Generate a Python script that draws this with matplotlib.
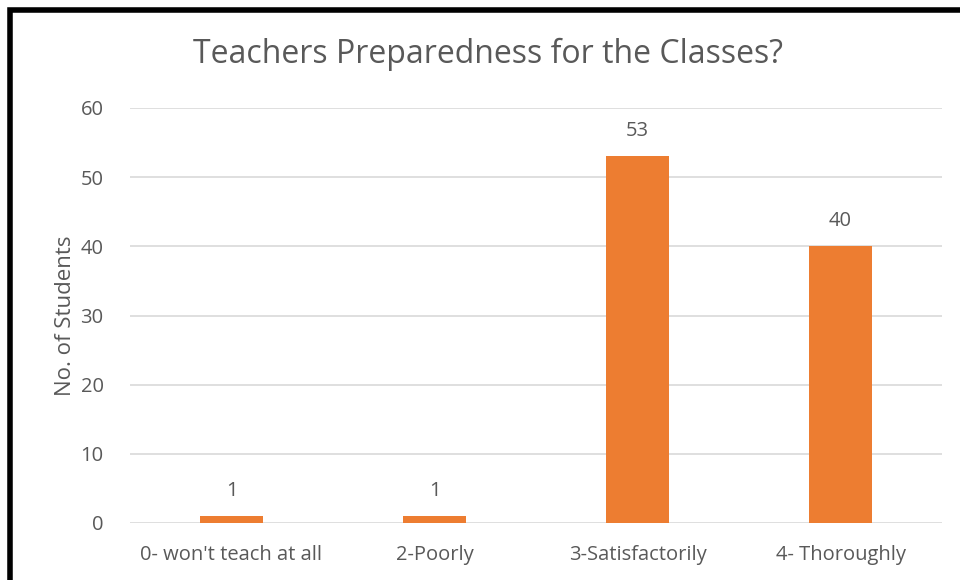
import matplotlib.pyplot as plt
from matplotlib.patches import Rectangle

# Data
categories = ["0- won't teach at all", "2-Poorly", "3-Satisfactorily", "4- Thoroughly"]
students = [1, 1, 53, 40]
y_ticks = [0, 10, 20, 30, 40, 50, 60]

plt.rcParams['font.family'] = ['Open Sans', 'DejaVu Sans']
text_color = '#595959'

fig = plt.figure(figsize=(9.6, 5.8), dpi=100)
ax = fig.add_axes([130 / 960, 57 / 580, 812 / 960, 415 / 580])

x = range(len(categories))
bars = ax.bar(x, students, width=0.31, color='#ED7D31', zorder=3)
for b, v in zip(bars, students):
    ax.annotate(str(v), (b.get_x() + b.get_width() / 2, v), xytext=(0, 11),
                textcoords='offset points', ha='center', va='bottom',
                fontsize=14.5, color=text_color)

ax.set_xlim(-0.5, len(categories) - 0.5)
ax.set_ylim(0, 60)
ax.set_yticks(y_ticks)
ax.set_xticks(list(x))
ax.set_xticklabels(categories)
ax.tick_params(axis='both', length=0, labelsize=14.5, labelcolor=text_color)
ax.tick_params(axis='y', pad=19)
ax.tick_params(axis='x', pad=16)
ax.grid(axis='y', color='#D9D9D9', linewidth=1.2, zorder=0)
for s in ax.spines.values():
    s.set_visible(False)

ax.set_ylabel('No. of Students', fontsize=16, color=text_color, labelpad=3)
fig.text(488 / 960, 1 - 54 / 580, 'Teachers Preparedness for the Classes?',
         ha='center', va='center', fontsize=23, color=text_color)

# thick black frame that runs off the right and bottom edges
fig.patches.append(Rectangle((10 / 960, -0.1), 1.2, 1 - 10 / 580 + 0.1,
                             transform=fig.transFigure, fill=False,
                             edgecolor='black', linewidth=4))

fig.savefig('out.png', dpi=100, facecolor='white')
